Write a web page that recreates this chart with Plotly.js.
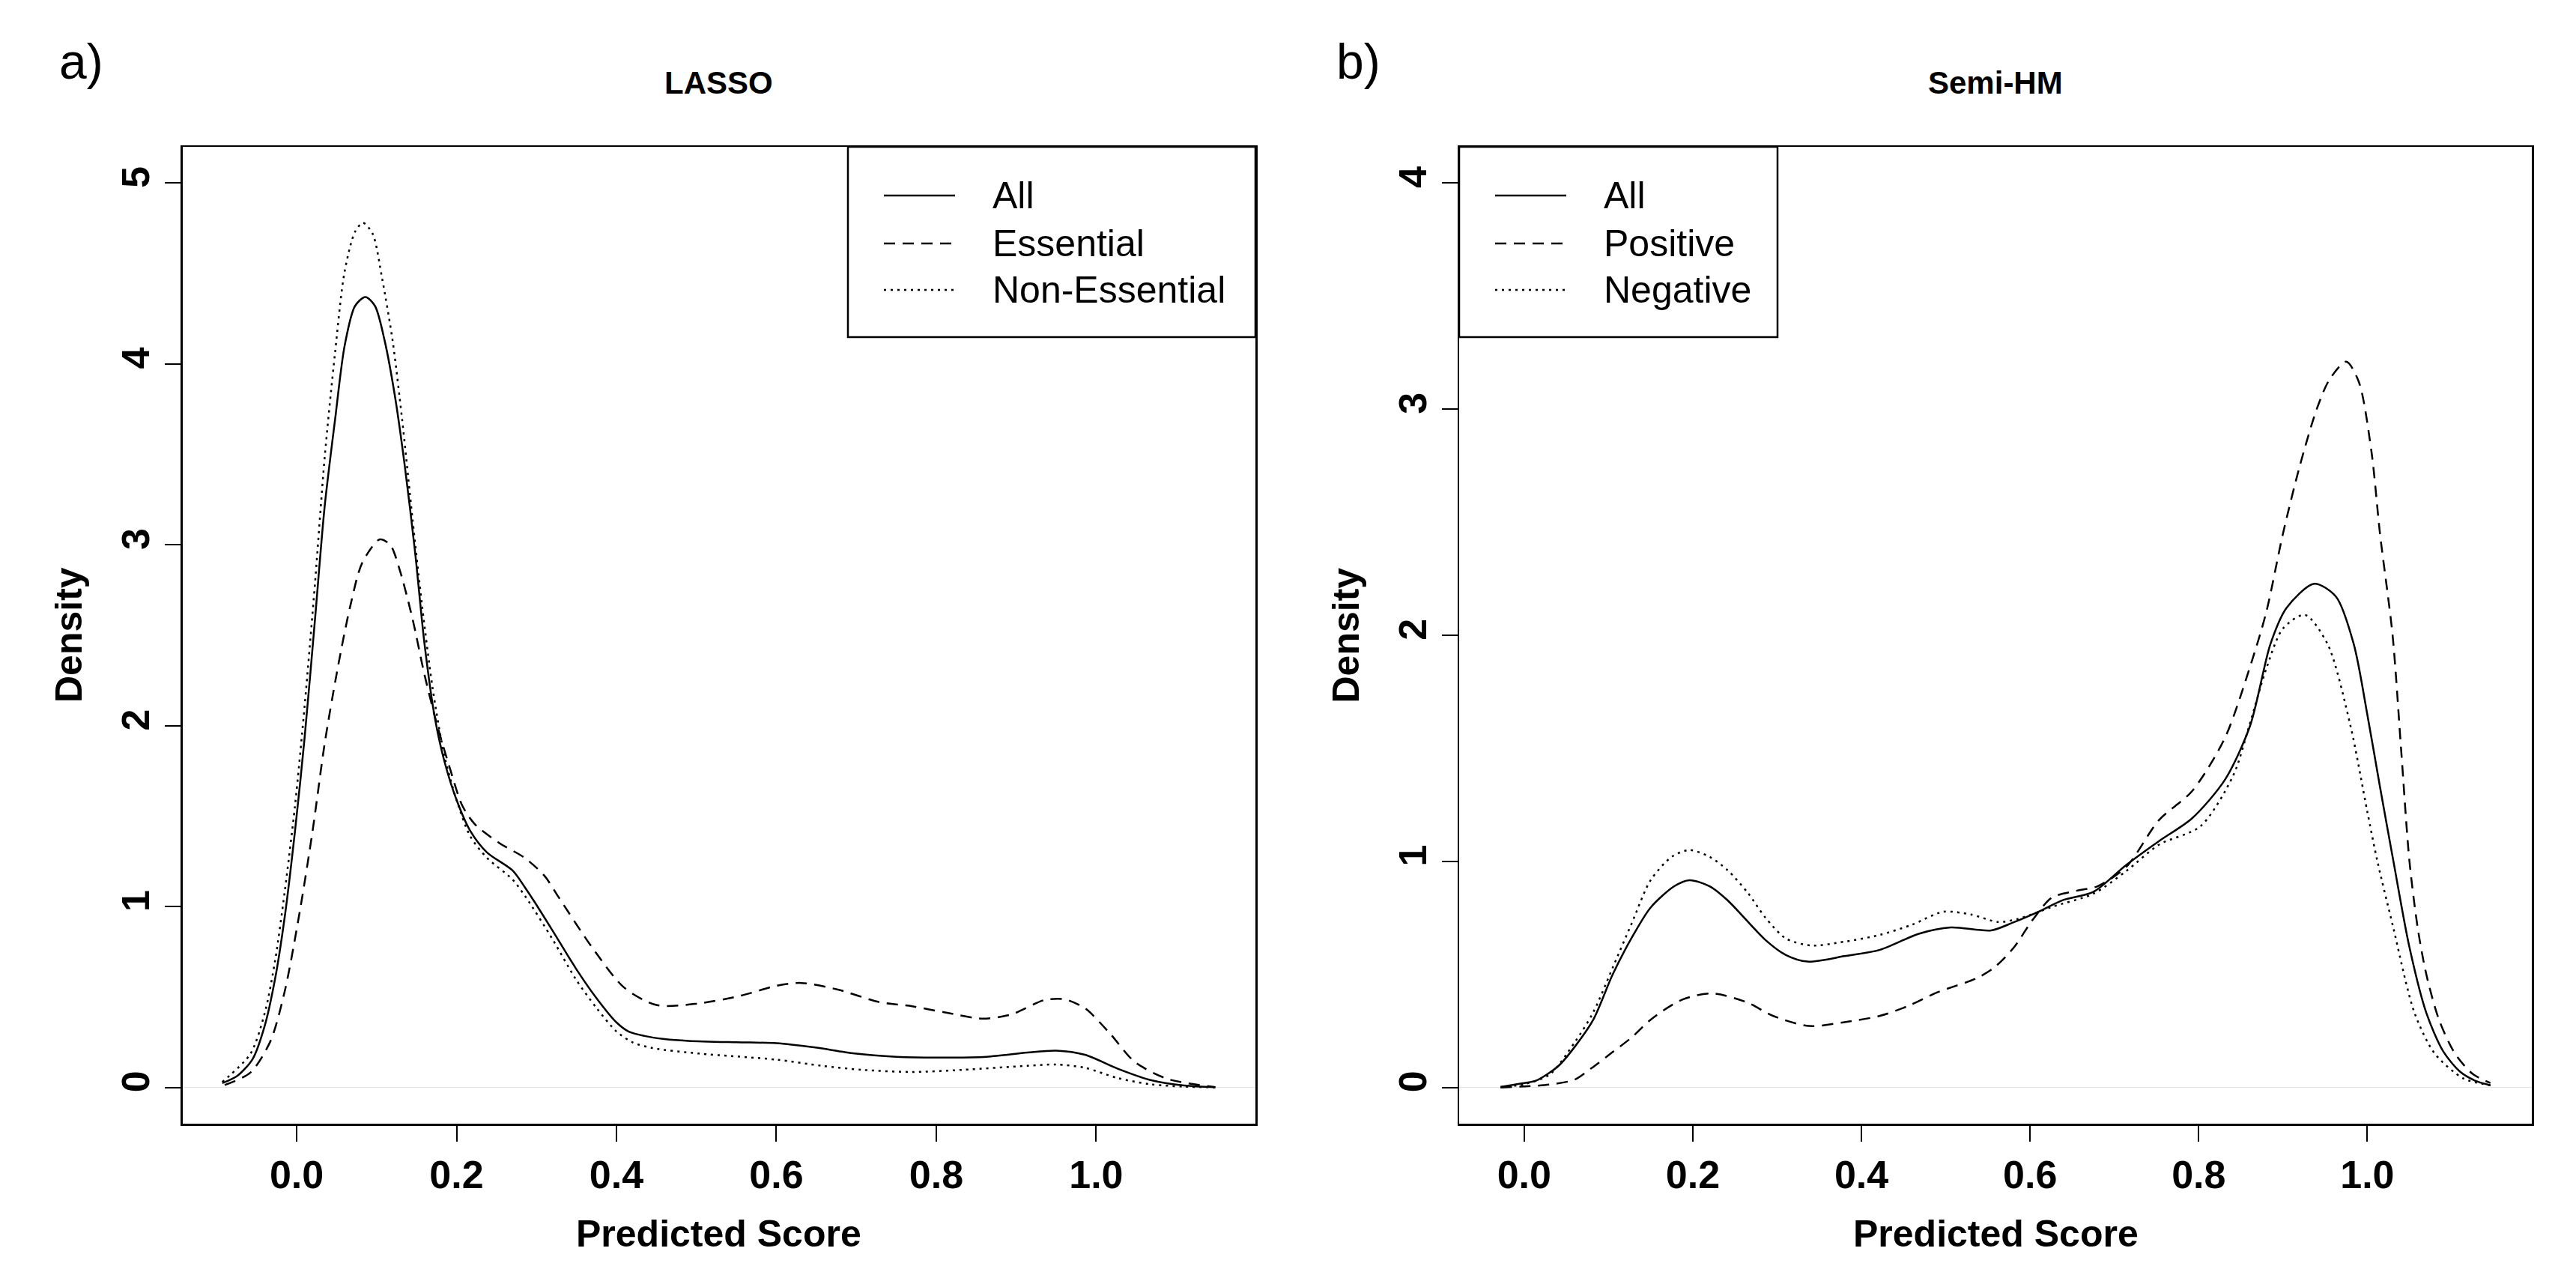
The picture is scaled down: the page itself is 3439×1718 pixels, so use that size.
<!DOCTYPE html>
<html>
<head>
<meta charset="utf-8">
<script src="https://cdn.plot.ly/plotly-3.0.1.min.js"></script>
<style>html,body{margin:0;padding:0;background:#fff;}#chart{width:3439px;height:1718px;}</style>
</head>
<body>
<div id="chart"></div>
<script>
// ---------- Data ----------
const xTickVals = [0, 0.2, 0.4, 0.6, 0.8, 1.0];
const xTickText = ["0.0", "0.2", "0.4", "0.6", "0.8", "1.0"];
const yTickValsA = [0, 1, 2, 3, 4, 5];
const yTickValsB = [0, 1, 2, 3, 4];

// Panel a) LASSO
const lassoAllX = [-0.093, -0.074, -0.055, -0.040, -0.027, -0.015, -0.002, 0.010, 0.023, 0.035, 0.048, 0.060, 0.073, 0.086, 0.098, 0.110, 0.123, 0.135, 0.148, 0.160, 0.173, 0.185, 0.200, 0.217, 0.238, 0.270, 0.285, 0.297, 0.320, 0.349, 0.374, 0.400, 0.415, 0.435, 0.460, 0.490, 0.550, 0.600, 0.647, 0.698, 0.750, 0.800, 0.863, 0.914, 0.950, 0.986, 1.027, 1.068, 1.110, 1.149];
const lassoAllY = [0.024, 0.065, 0.158, 0.34, 0.60, 0.94, 1.42, 1.935, 2.59, 3.21, 3.69, 4.10, 4.32, 4.37, 4.32, 4.13, 3.82, 3.445, 2.965, 2.45, 2.04, 1.80, 1.59, 1.42, 1.30, 1.20, 1.11, 1.03, 0.868, 0.66, 0.50, 0.36, 0.31, 0.285, 0.268, 0.258, 0.25, 0.245, 0.222, 0.188, 0.17, 0.165, 0.17, 0.193, 0.204, 0.181, 0.104, 0.041, 0.011, 0.002];

const lassoEssX = [-0.090, -0.058, -0.033, -0.015, 0.004, 0.020, 0.035, 0.051, 0.067, 0.082, 0.104, 0.117, 0.129, 0.145, 0.160, 0.176, 0.192, 0.207, 0.223, 0.254, 0.285, 0.310, 0.328, 0.369, 0.410, 0.451, 0.503, 0.554, 0.600, 0.631, 0.678, 0.729, 0.770, 0.811, 0.858, 0.894, 0.935, 0.960, 0.986, 1.017, 1.048, 1.089, 1.149];
const lassoEssY = [0.014, 0.082, 0.254, 0.53, 0.975, 1.42, 1.90, 2.31, 2.66, 2.90, 3.03, 3.00, 2.86, 2.59, 2.28, 2.00, 1.76, 1.56, 1.455, 1.35, 1.27, 1.17, 1.05, 0.778, 0.551, 0.455, 0.465, 0.506, 0.562, 0.578, 0.54, 0.472, 0.449, 0.415, 0.381, 0.404, 0.483, 0.488, 0.438, 0.30, 0.143, 0.048, 0.002];

const lassoNonX = [-0.093, -0.058, -0.040, -0.027, -0.015, -0.002, 0.010, 0.023, 0.035, 0.048, 0.060, 0.073, 0.083, 0.095, 0.107, 0.120, 0.132, 0.145, 0.157, 0.170, 0.185, 0.200, 0.217, 0.238, 0.270, 0.287, 0.320, 0.349, 0.375, 0.400, 0.420, 0.445, 0.503, 0.600, 0.657, 0.708, 0.770, 0.832, 0.914, 0.950, 0.986, 1.027, 1.068, 1.110, 1.149];
const lassoNonY = [0.031, 0.185, 0.41, 0.70, 1.08, 1.56, 2.11, 2.79, 3.48, 4.06, 4.51, 4.73, 4.78, 4.72, 4.47, 4.13, 3.69, 3.14, 2.66, 2.21, 1.83, 1.59, 1.39, 1.27, 1.15, 1.05, 0.82, 0.60, 0.44, 0.31, 0.25, 0.218, 0.188, 0.154, 0.12, 0.0975, 0.086, 0.0975, 0.12, 0.127, 0.109, 0.052, 0.018, 0.005, 0.001];

// Panel b) Semi-HM
const semiAllX = [-0.028, 0.0, 0.014, 0.030, 0.042, 0.060, 0.082, 0.105, 0.128, 0.150, 0.178, 0.196, 0.220, 0.241, 0.286, 0.310, 0.336, 0.380, 0.422, 0.468, 0.506, 0.554, 0.580, 0.608, 0.640, 0.675, 0.714, 0.753, 0.792, 0.831, 0.861, 0.885, 0.904, 0.937, 0.963, 0.984, 1.000, 1.015, 1.031, 1.050, 1.070, 1.090, 1.110, 1.128, 1.146];
const semiAllY = [0.002, 0.02, 0.03, 0.065, 0.10, 0.18, 0.30, 0.50, 0.665, 0.796, 0.89, 0.917, 0.89, 0.829, 0.653, 0.587, 0.557, 0.581, 0.609, 0.68, 0.708, 0.695, 0.73, 0.774, 0.83, 0.865, 0.984, 1.09, 1.19, 1.36, 1.60, 1.96, 2.12, 2.228, 2.17, 1.96, 1.65, 1.33, 1.0, 0.62, 0.33, 0.16, 0.07, 0.03, 0.01];

const semiPosX = [-0.028, 0.0, 0.030, 0.060, 0.080, 0.105, 0.128, 0.150, 0.187, 0.223, 0.264, 0.295, 0.338, 0.380, 0.422, 0.455, 0.490, 0.536, 0.558, 0.581, 0.603, 0.626, 0.655, 0.680, 0.714, 0.753, 0.792, 0.831, 0.860, 0.880, 0.900, 0.920, 0.940, 0.955, 0.975, 0.990, 1.005, 1.015, 1.030, 1.040, 1.050, 1.060, 1.070, 1.085, 1.104, 1.125, 1.146];
const semiPosY = [0.0, 0.005, 0.013, 0.035, 0.086, 0.157, 0.223, 0.30, 0.388, 0.416, 0.377, 0.317, 0.272, 0.289, 0.317, 0.36, 0.421, 0.482, 0.532, 0.62, 0.741, 0.84, 0.87, 0.89, 0.975, 1.183, 1.31, 1.545, 1.85, 2.10, 2.45, 2.75, 3.0, 3.13, 3.21, 3.12, 2.81, 2.45, 2.0, 1.5, 1.0, 0.70, 0.50, 0.30, 0.15, 0.06, 0.02];

const semiNegX = [-0.028, 0.0, 0.030, 0.060, 0.082, 0.105, 0.128, 0.150, 0.175, 0.196, 0.220, 0.241, 0.265, 0.286, 0.310, 0.340, 0.380, 0.422, 0.460, 0.497, 0.530, 0.5625, 0.585, 0.608, 0.627, 0.675, 0.714, 0.753, 0.802, 0.841, 0.860, 0.880, 0.900, 0.926, 0.953, 0.980, 1.000, 1.012, 1.030, 1.056, 1.080, 1.114, 1.146];
const semiNegY = [0.002, 0.015, 0.057, 0.20, 0.333, 0.53, 0.73, 0.917, 1.02, 1.05, 1.02, 0.962, 0.862, 0.752, 0.66, 0.628, 0.645, 0.675, 0.72, 0.777, 0.765, 0.732, 0.745, 0.774, 0.80, 0.857, 0.957, 1.074, 1.155, 1.38, 1.60, 1.85, 2.03, 2.09, 1.96, 1.60, 1.22, 1.0, 0.72, 0.33, 0.15, 0.04, 0.01];

const legendA = ["All", "Essential", "Non-Essential"];
const legendB = ["All", "Positive", "Negative"];
const panelTitles = ["LASSO", "Semi-HM"];
const panelTags = ["a)", "b)"];
const xTitle = "Predicted Score";
const yTitle = "Density";

// ---------- Layout helpers ----------
const W = 3439, H = 1718;
const FONT = "Liberation Sans, Arial, Helvetica, sans-serif";
const px = v => v / W;
const py = v => 1 - v / H;
const DASH = "15px,10px";
const DOT = "3px,6px";
const LW = 2.5;

function tr(x, y, dash, xa, ya, name) {
  return {
    x: x, y: y, type: "scatter", mode: "lines", name: name,
    xaxis: xa, yaxis: ya, showlegend: false, hoverinfo: "skip",
    line: {color: "#000", width: LW, dash: dash, shape: "spline", smoothing: 0.8}
  };
}

const data = [
  tr(lassoAllX, lassoAllY, "solid", "x", "y", legendA[0]),
  tr(lassoEssX, lassoEssY, DASH, "x", "y", legendA[1]),
  tr(lassoNonX, lassoNonY, DOT, "x", "y", legendA[2]),
  tr(semiAllX, semiAllY, "solid", "x2", "y2", legendB[0]),
  tr(semiPosX, semiPosY, DASH, "x2", "y2", legendB[1]),
  tr(semiNegX, semiNegY, DOT, "x2", "y2", legendB[2])
];

const tickFont = {family: FONT, size: 52, color: "#000", weight: 700};
function xAxis(domain, range, anchor) {
  return {
    domain: domain, range: range, anchor: anchor,
    showline: true, linecolor: "#000", linewidth: 2.5, mirror: true,
    ticks: "outside", ticklen: 21, tickwidth: 2, tickcolor: "#000",
    tickvals: xTickVals, ticktext: xTickText, tickfont: tickFont,
    showgrid: false, zeroline: false, fixedrange: true
  };
}
function yAxis(domain, range, anchor, vals) {
  return {
    domain: domain, range: range, anchor: anchor,
    showline: true, linecolor: "#000", linewidth: 2.5, mirror: true,
    ticks: "outside", ticklen: 21, tickwidth: 2, tickcolor: "#000",
    tickvals: vals, ticktext: vals.map(String), tickfont: tickFont, tickangle: -90,
    showgrid: false, zeroline: true, zerolinecolor: "#e3e3e3", zerolinewidth: 1.5,
    fixedrange: true
  };
}

const yDom = [py(1500), py(196)];
const panels = [
  {left: 243.5, right: 1676, legL: 1132, legR: 1676, labels: legendA},
  {left: 1948, right: 3380, legL: 1948, legR: 2373, labels: legendB}
];

const annotations = [];
const shapes = [];
panels.forEach((p, i) => {
  const cx = (p.left + p.right) / 2;
  annotations.push({text: panelTags[i], x: px(p.left - 166.5), y: py(82), xref: "paper", yref: "paper",
    xanchor: "left", yanchor: "middle", showarrow: false, font: {family: FONT, size: 66, color: "#000"}});
  annotations.push({text: panelTitles[i], x: px(cx), y: py(110.5), xref: "paper", yref: "paper",
    xanchor: "center", yanchor: "middle", showarrow: false, font: {family: FONT, size: 42, color: "#000", weight: 700}});
  annotations.push({text: xTitle, x: px(cx), y: py(1647), xref: "paper", yref: "paper",
    xanchor: "center", yanchor: "middle", showarrow: false, font: {family: FONT, size: 50, color: "#000", weight: 700}});
  annotations.push({text: yTitle, x: px(p.left - 151.5), y: py(848), xref: "paper", yref: "paper", textangle: -90,
    xanchor: "center", yanchor: "middle", showarrow: false, font: {family: FONT, size: 50, color: "#000", weight: 700}});
  // legend box
  shapes.push({type: "rect", xref: "paper", yref: "paper", x0: px(p.legL), x1: px(p.legR), y0: py(450), y1: py(196),
    line: {color: "#000", width: 2.5}, fillcolor: "#fff", layer: "above"});
  const rows = [261, 325, 387];
  const dashes = ["solid", DASH, DOT];
  rows.forEach((ry, k) => {
    shapes.push({type: "line", xref: "paper", yref: "paper", x0: px(p.legL + 48), x1: px(p.legL + 143), y0: py(ry), y1: py(ry),
      line: {color: "#000", width: LW, dash: dashes[k]}, layer: "above"});
    annotations.push({text: p.labels[k], x: px(p.legL + 191), y: py(ry), xref: "paper", yref: "paper",
      xanchor: "left", yanchor: "middle", showarrow: false, font: {family: FONT, size: 50, color: "#000"}});
  });
});

const layout = {
  width: W, height: H,
  margin: {l: 0, r: 0, t: 0, b: 0},
  paper_bgcolor: "#fff", plot_bgcolor: "#fff",
  showlegend: false,
  font: {family: FONT, color: "#000"},
  xaxis: xAxis([px(243.5), px(1676)], [-0.1429, 1.1992], "y"),
  yaxis: yAxis(yDom, [-0.2, 5.2], "x", yTickValsA),
  xaxis2: xAxis([px(1948), px(3380)], [-0.0771, 1.1951], "y2"),
  yaxis2: yAxis(yDom, [-0.16, 4.16], "x2", yTickValsB),
  annotations: annotations,
  shapes: shapes
};

Plotly.newPlot("chart", data, layout, {staticPlot: true, displayModeBar: false});
</script>
</body>
</html>
